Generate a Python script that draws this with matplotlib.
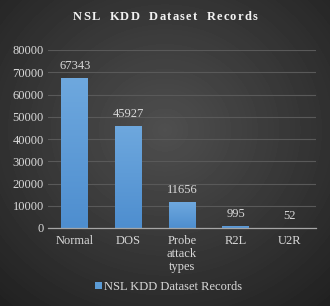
import numpy as np
import matplotlib.pyplot as plt
from matplotlib.colors import LinearSegmentedColormap

categories = ["Normal", "DOS", "Probe\nattack\ntypes", "R2L", "U2R"]
records = [67343, 45927, 11656, 995, 52]
yticks = [0, 10000, 20000, 30000, 40000, 50000, 60000, 70000, 80000]
series_name = "NSL KDD Dataset Records"
title = "NSL  KDD  Dataset  Records"

plt.rcParams['font.family'] = ['Liberation Serif', 'DejaVu Serif']
txt = '#d9d9d9'
fs = 9

fig = plt.figure(figsize=(3.3, 3.06), dpi=100)

# radial grey background
bg = fig.add_axes([0, 0, 1, 1], zorder=-5)
yy, xx = np.mgrid[-1:1:306j, -1:1:330j]
r = np.sqrt(xx**2 + (yy + 0.15)**2) / np.sqrt(2)
bg.imshow(0.31 - 0.17 * r, cmap='gray', vmin=0, vmax=1, aspect='auto',
          extent=[0, 1, 0, 1])
bg.axis('off')

ax = fig.add_axes([48/330, 1 - 228/306, 268/330, 178/306])
ax.patch.set_alpha(0)
x = np.arange(len(categories))
bars = ax.bar(x, records, width=0.5, color='#5b9bd5', edgecolor='none',
              zorder=3)

# each bar gets a light-to-dark vertical gradient
grad_cmap = LinearSegmentedColormap.from_list('bar', ['#4e8ecf', '#6ea8de'])
grad = np.linspace(0, 1, 100).reshape(-1, 1)
for b in bars:
    im = ax.imshow(grad, cmap=grad_cmap, origin='lower', aspect='auto',
                   extent=[b.get_x(), b.get_x() + b.get_width(), 0, b.get_height()],
                   zorder=3.5)
    im.set_clip_path(b)

for b, v in zip(bars, records):
    ax.text(b.get_x() + b.get_width()/2, v + 2600, str(v), ha='center',
            va='bottom', color=txt, fontsize=fs)

ax.set_xlim(-0.5, len(categories) - 0.5)
ax.set_ylim(0, 80000)
ax.set_yticks(yticks)
ax.set_xticks(x)
ax.set_xticklabels(categories, linespacing=1.1)
ax.tick_params(axis='both', length=0, colors=txt, labelsize=fs)
ax.tick_params(axis='x', pad=5)
ax.tick_params(axis='y', pad=3)
ax.grid(axis='y', color='#595959', linewidth=0.8, zorder=0)
for s in ['top', 'right', 'left']:
    ax.spines[s].set_visible(False)
ax.spines['bottom'].set_color('#a6a6a6')
ax.spines['bottom'].set_linewidth(0.9)
ax.spines['bottom'].set_zorder(4)

# letter-spaced bold title, drawn one character at a time
renderer = fig.canvas.get_renderer()
spacing = 1.2
widths = []
for ch in title:
    t = fig.text(0, 0, ch if ch != ' ' else 'n', fontsize=9, fontweight='bold')
    w = t.get_window_extent(renderer).width
    widths.append(w * (0.45 if ch == ' ' else 1.0))
    t.remove()
total = sum(widths) + spacing * (len(title) - 1)
xpos = 165 - total / 2
for ch, w in zip(title, widths):
    if ch != ' ':
        fig.text(xpos / 330, 1 - 17/306, ch, ha='left', va='center',
                 color='#f2f2f2', fontsize=9, fontweight='bold')
    xpos += w + spacing

fig.legend([bars[0]], [series_name], loc='center',
           bbox_to_anchor=(0.51, 1 - 287/306), frameon=False,
           fontsize=fs, handlelength=0.55, handleheight=0.55,
           handletextpad=0.15, labelcolor=txt)

fig.savefig('out.png', dpi=100)
